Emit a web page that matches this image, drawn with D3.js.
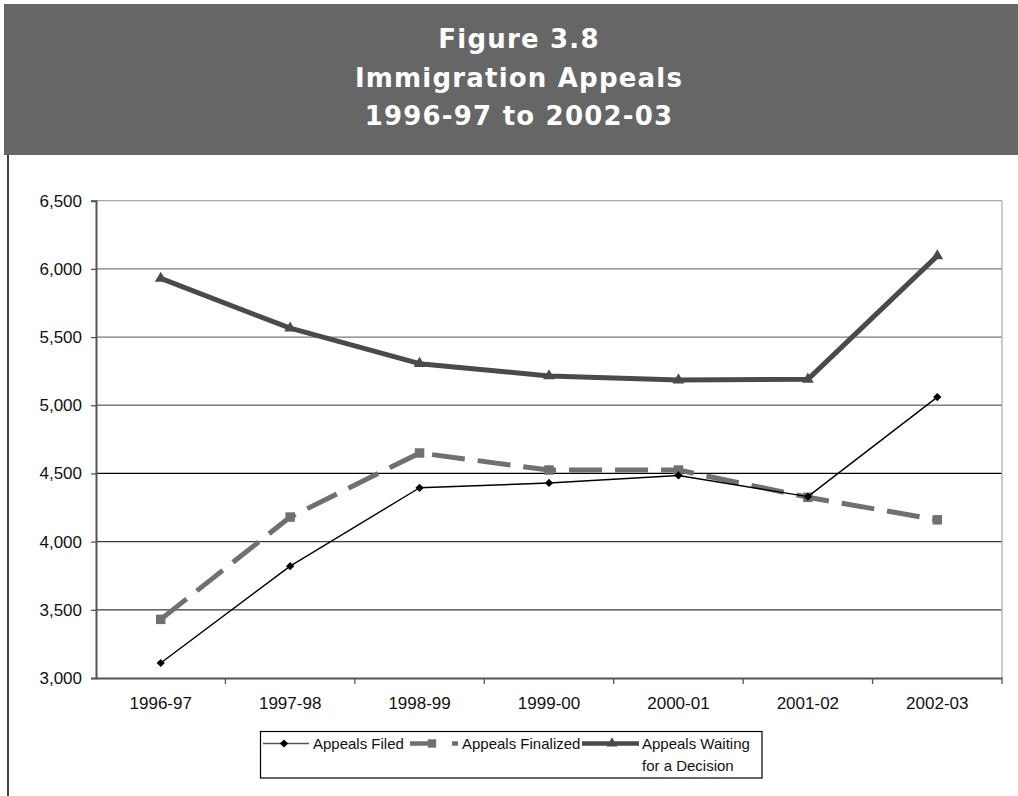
<!DOCTYPE html>
<html>
<head>
<meta charset="utf-8">
<script src="https://cdn.jsdelivr.net/npm/d3@7"></script>
<style>
  html, body { margin: 0; padding: 0; background: #fff; }
  svg { display: block; }
  text { font-family: Arial, "Liberation Sans", sans-serif; }
</style>
</head>
<body>
<svg id="chart" width="1018" height="796"></svg>
<script>
// Fiscal years on the x axis
const categories = ["1996-97", "1997-98", "1998-99", "1999-00", "2000-01", "2001-02", "2002-03"];

// Series values
const appealsFiled      = [3110, 3820, 4395, 4430, 4485, 4330, 5060];
const appealsFinalized  = [3430, 4180, 4650, 4525, 4525, 4325, 4160];
const appealsWaiting    = [5930, 5565, 5305, 5215, 5185, 5190, 6095];

// Axis ticks
const yTicks = [3000, 3500, 4000, 4500, 5000, 5500, 6000, 6500];

const titleLines = ["Figure 3.8", "Immigration Appeals", "1996-97 to 2002-03"];

const svg = d3.select("#chart");

// Title banner
svg.append("rect")
  .attr("x", 4).attr("y", 4).attr("width", 1014).attr("height", 151)
  .attr("fill", "#666666");

svg.append("g").selectAll("text")
  .data(titleLines)
  .join("text")
  .attr("x", 519)
  .attr("y", (d, i) => 48 + i * 38.5)
  .attr("text-anchor", "middle")
  .attr("fill", "#ffffff")
  .style("font-family", "'DejaVu Sans', Verdana, sans-serif")
  .style("font-weight", "bold")
  .style("font-size", "26px")
  .style("letter-spacing", "1.2px")
  .text(d => d);

// Left frame rule under the banner
svg.append("line")
  .attr("x1", 8).attr("x2", 8).attr("y1", 155).attr("y2", 796)
  .attr("stroke", "#000").attr("stroke-width", 1.5);

// Plot geometry
const plot = { left: 96, right: 1002, top: 200.7, bottom: 678 };

const x = d3.scaleBand().domain(categories).range([plot.left, plot.right]);
const y = d3.scaleLinear().domain([3000, 6500]).range([plot.bottom, plot.top]);
const cx = d => x(d) + x.bandwidth() / 2;

// Horizontal gridlines
const gridColor = v => v === 6500 ? "#a8a8a8" : v >= 5000 ? "#7a7a7a" : v === 4500 ? "#000" : "#3a3a3a";
svg.append("g").selectAll("line")
  .data(yTicks.filter(v => v > 3000))
  .join("line")
  .attr("x1", plot.left).attr("x2", plot.right)
  .attr("y1", d => y(d)).attr("y2", d => y(d))
  .attr("stroke", d => gridColor(d))
  .attr("stroke-width", 1.3);

// Right border of plot area
svg.append("line")
  .attr("x1", plot.right).attr("x2", plot.right)
  .attr("y1", plot.top).attr("y2", plot.bottom)
  .attr("stroke", "#b0b0b0").attr("stroke-width", 1.3);

// Y axis
const yAxis = svg.append("g")
  .attr("transform", `translate(${plot.left},0)`)
  .call(d3.axisLeft(y).tickValues(yTicks).tickSize(5).tickPadding(9).tickFormat(d3.format(",")));
yAxis.select(".domain").attr("stroke", "#555").attr("stroke-width", 2);
yAxis.selectAll(".tick line").attr("stroke", "#555").attr("stroke-width", 1.3);
yAxis.selectAll("text").style("font-size", "17px").attr("fill", "#111");

// X axis: labels centred in each band, ticks on band boundaries
const xAxis = svg.append("g")
  .attr("transform", `translate(0,${plot.bottom})`)
  .call(d3.axisBottom(x).tickSize(0).tickPadding(19));
xAxis.select(".domain").attr("stroke", "#555").attr("stroke-width", 2);
xAxis.selectAll("text").style("font-size", "17px").attr("fill", "#111");

svg.append("g").selectAll("line")
  .data(categories.slice(1).map(c => x(c)).concat([plot.right]))
  .join("line")
  .attr("x1", d => d).attr("x2", d => d)
  .attr("y1", plot.bottom).attr("y2", plot.bottom + 6)
  .attr("stroke", "#555").attr("stroke-width", 1.3);

// Square diamond marker (a square turned 45 degrees)
const rotSquare = {
  draw(ctx, size) {
    const r = Math.sqrt(size / 2);
    ctx.moveTo(0, -r); ctx.lineTo(r, 0); ctx.lineTo(0, r); ctx.lineTo(-r, 0); ctx.closePath();
  }
};

// Series
const seriesDefs = [
  { name: "Appeals Waiting", values: appealsWaiting, color: "#4a4a4a", width: 5, dash: null, marker: d3.symbolTriangle, msize: 60 },
  { name: "Appeals Finalized", values: appealsFinalized, color: "#707070", width: 5, dash: "33 13", marker: d3.symbolSquare, msize: 90 },
  { name: "Appeals Filed", values: appealsFiled, color: "#000000", width: 1.4, dash: null, marker: rotSquare, msize: 34 }
];

const line = d3.line().x((d, i) => cx(categories[i])).y(d => y(d));

seriesDefs.forEach(s => {
  svg.append("path")
    .datum(s.values)
    .attr("d", line)
    .attr("fill", "none")
    .attr("stroke", s.color)
    .attr("stroke-width", s.width)
    .attr("stroke-dasharray", s.dash)
    .attr("stroke-linejoin", "round");
  svg.append("g").selectAll("path")
    .data(s.values)
    .join("path")
    .attr("transform", (d, i) => `translate(${cx(categories[i])},${y(d)})`)
    .attr("d", d3.symbol().type(s.marker).size(s.msize))
    .attr("fill", s.color);
});

// Legend
const legend = svg.append("g");
legend.append("rect")
  .attr("x", 260.5).attr("y", 731.5).attr("width", 501.5).attr("height", 46.5)
  .attr("fill", "#fff").attr("stroke", "#000").attr("stroke-width", 1.2);

const ly = 743.5;
// Appeals Filed sample
legend.append("line").attr("x1", 263).attr("x2", 309).attr("y1", ly).attr("y2", ly)
  .attr("stroke", "#555").attr("stroke-width", 1.4);
legend.append("path").attr("transform", `translate(284,${ly})`)
  .attr("d", d3.symbol().type(rotSquare).size(34)).attr("fill", "#000");
legend.append("text").attr("x", 313).attr("y", ly + 5.5).style("font-size", "15px").attr("fill", "#111").text("Appeals Filed");

// Appeals Finalized sample
legend.append("line").attr("x1", 410).attr("x2", 458).attr("y1", ly).attr("y2", ly)
  .attr("stroke", "#707070").attr("stroke-width", 4.5).attr("stroke-dasharray", "26 16 6");
legend.append("path").attr("transform", `translate(432,${ly})`)
  .attr("d", d3.symbol().type(d3.symbolSquare).size(70)).attr("fill", "#707070");
legend.append("text").attr("x", 462).attr("y", ly + 5.5).style("font-size", "15px").attr("fill", "#111").text("Appeals Finalized");

// Appeals Waiting sample
legend.append("line").attr("x1", 582).attr("x2", 639).attr("y1", ly).attr("y2", ly)
  .attr("stroke", "#4a4a4a").attr("stroke-width", 4.5);
legend.append("path").attr("transform", `translate(612,${ly})`)
  .attr("d", d3.symbol().type(d3.symbolTriangle).size(50)).attr("fill", "#4a4a4a");
legend.append("text").attr("x", 642).attr("y", ly + 5.5).style("font-size", "15px").attr("fill", "#111").text("Appeals Waiting");
legend.append("text").attr("x", 642).attr("y", ly + 27.5).style("font-size", "15px").attr("fill", "#111").text("for a Decision");
</script>
</body>
</html>
